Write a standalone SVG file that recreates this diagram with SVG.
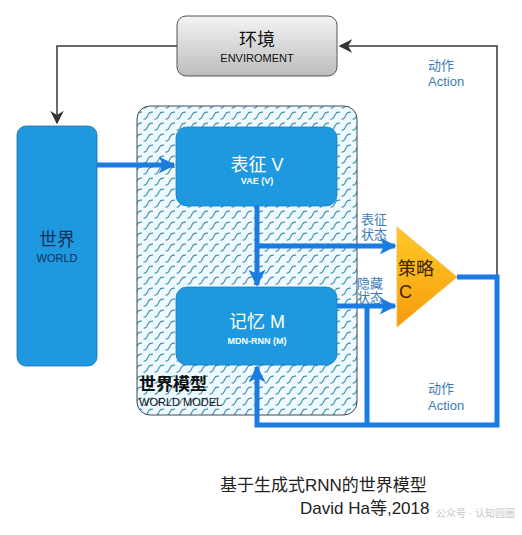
<svg xmlns="http://www.w3.org/2000/svg" width="522" height="535" viewBox="0 0 522 535">
<defs>
<linearGradient id="envg" x1="0" y1="0" x2="0" y2="1"><stop offset="0" stop-color="#f4f4f4"/><stop offset="1" stop-color="#bcbcbc"/></linearGradient>
<linearGradient id="cg" x1="0" y1="0" x2="0" y2="1"><stop offset="0" stop-color="#ffc928"/><stop offset="1" stop-color="#f59c0c"/></linearGradient>
<pattern id="wave" width="11" height="11" patternUnits="userSpaceOnUse">
<rect width="11" height="11" fill="#eefaff"/>
<path d="M0.5,9 Q3,9.5 4,7 L5.5,4 Q6.5,1.8 10,2.2" fill="none" stroke="#4a92ad" stroke-width="1.2"/>
</pattern>
<marker id="ab" viewBox="0 0 10 10" refX="9" refY="5" markerWidth="3.4" markerHeight="3.4" orient="auto" markerUnits="strokeWidth"><path d="M0,0 L10,5 L0,10 L2.5,5 Z" fill="#1a7be0"/></marker>
<marker id="ak" viewBox="0 0 10 10" refX="9" refY="5" markerWidth="9" markerHeight="9" orient="auto" markerUnits="strokeWidth"><path d="M0,0 L10,5 L0,10 L3,5 Z" fill="#333"/></marker>
</defs>
<style>
.cjk{font-family:"Liberation Sans","Noto Sans CJK SC",sans-serif}
.blue{fill:#1e98de}
.lbl{fill:#3a7cb6;font-size:13px}
.bl{fill:none;stroke:#1a7be0;stroke-width:5}
.dk{fill:none;stroke:#3a3a3a;stroke-width:1.5}
.wt{fill:#fff;text-anchor:middle}
</style>
<g id="environment">
<rect x="177" y="16" width="160" height="60" rx="9" fill="url(#envg)" stroke="#555" stroke-width="1"/>
<text x="257" y="46" class="cjk" font-size="18" text-anchor="middle" fill="#111">环境</text>
<text x="257" y="62" class="cjk" font-size="11" text-anchor="middle" fill="#111">ENVIROMENT</text>
</g>
<g id="world">
<rect x="17" y="126" width="80" height="240" rx="9" class="blue" stroke="#1a6fae" stroke-width="0.8"/>
<text x="57" y="246" class="cjk" font-size="18" text-anchor="middle" fill="#13305a">世界</text>
<text x="57" y="262" class="cjk" font-size="11" text-anchor="middle" fill="#13305a">WORLD</text>
</g>
<g id="world-model">
<rect x="137" y="106" width="220" height="309" rx="13" fill="url(#wave)" stroke="#3a4a55" stroke-width="1"/>
<text x="139" y="390" class="cjk" font-size="17" font-weight="bold" fill="#111">世界模型</text>
<text x="139" y="406" class="cjk" font-size="11" fill="#111">WORLD MODEL</text>
</g>
<g id="connectors">
<path class="dk" d="M497,276 V46 H340" marker-end="url(#ak)"/>
<path class="dk" d="M177,46 H57 V123" marker-end="url(#ak)"/>
<path class="bl" d="M97,165 H174" marker-end="url(#ab)"/>
<path class="bl" d="M257,206 V285" marker-end="url(#ab)"/>
<path class="bl" d="M257,246 H395" marker-end="url(#ab)"/>
<path class="bl" d="M337,306 H395" marker-end="url(#ab)"/>
<path class="bl" d="M367,306 V425"/>
<path class="bl" d="M457,277 H497 V425 H257 V367" marker-end="url(#ab)"/>
</g>
<g id="vae">
<rect x="176" y="127" width="161" height="79" rx="11" class="blue" stroke="#1a7fc4" stroke-width="0.8"/>
<text x="257" y="171" class="cjk wt" font-size="18">表征 V</text>
<text x="257" y="184" class="cjk wt" font-size="9" font-weight="bold">VAE (V)</text>
</g>
<g id="mdn-rnn">
<rect x="176" y="287" width="161" height="78" rx="11" class="blue" stroke="#1a7fc4" stroke-width="0.8"/>
<text x="257" y="328" class="cjk wt" font-size="18">记忆 M</text>
<text x="257" y="344" class="cjk wt" font-size="9" font-weight="bold">MDN-RNN (M)</text>
</g>
<g id="controller">
<path d="M397,227 L457,277 L397,327 Z" fill="url(#cg)" stroke="#f5c050" stroke-width="1"/>
<text x="398" y="275" class="cjk" font-size="18" fill="#3a2500">策略</text>
<text x="399" y="298" class="cjk" font-size="18" fill="#3a2500">C</text>
</g>
<g id="labels">
<text x="428" y="70" class="cjk lbl">动作</text>
<text x="428" y="86" class="cjk lbl">Action</text>
<text x="361" y="224" class="cjk lbl">表征</text>
<text x="361" y="239" class="cjk lbl">状态</text>
<text x="357" y="288" class="cjk lbl">隐藏</text>
<text x="357" y="302" class="cjk lbl">状态</text>
<text x="428" y="393" class="cjk lbl">动作</text>
<text x="428" y="410" class="cjk lbl">Action</text>
<text x="220" y="491" class="cjk" font-size="17" fill="#222">基于生成式RNN的世界模型</text>
<text x="300" y="514" class="cjk" font-size="17" fill="#222">David Ha等,2018</text>
<text x="436" y="517" class="cjk" font-size="10" fill="#c8c8c8">公众号 · 认知圆圈</text>
</g>
</svg>
